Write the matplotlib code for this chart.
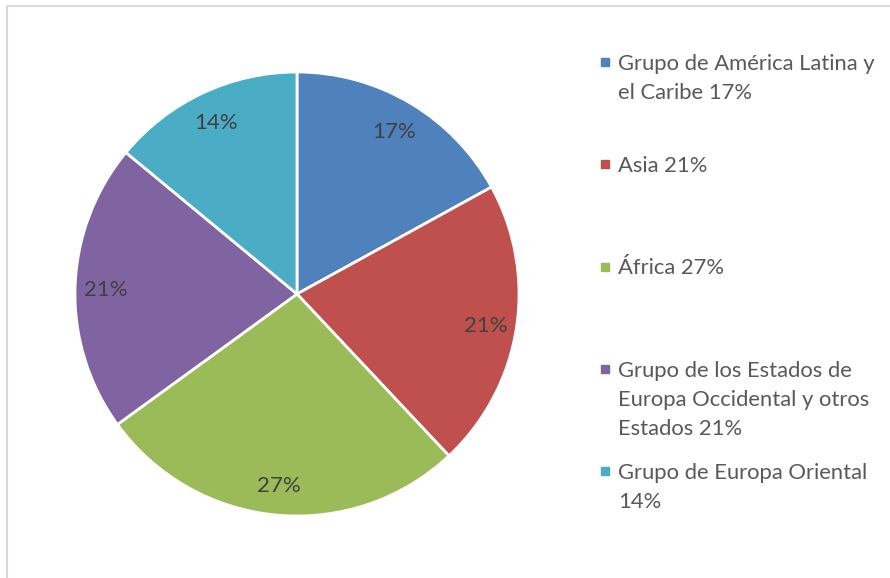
import matplotlib.pyplot as plt
from matplotlib.patches import Rectangle

regiones = [["Grupo de América Latina y", "el Caribe"],
            ["Asia"],
            ["África"],
            ["Grupo de los Estados de", "Europa Occidental y otros", "Estados"],
            ["Grupo de Europa Oriental", ""]]
porcentajes = [17, 21, 27, 21, 14]
colores = ["#4F81BD", "#C0504D", "#9BBB59", "#8064A2", "#4BACC6"]

W, H = 890, 578
plt.rcParams['font.family'] = ['Lato', 'DejaVu Sans']

fig = plt.figure(figsize=(W / 100, H / 100), dpi=100)

# marco gris del grafico
fig.patches.append(Rectangle((7 / W, -0.1), 1.2, (H - 6) / H + 0.1,
                             transform=fig.transFigure, fill=False,
                             edgecolor="#D9D9D9", linewidth=1.5))

# pie: centro (297, 294) px, radio 222 px
cx, cy, r = 297, H - 294, 222
m = 1.02
ax = fig.add_axes([(cx - r * m) / W, (cy - r * m) / H,
                   2 * r * m / W, 2 * r * m / H])
wedges, texts = ax.pie(porcentajes, colors=colores, startangle=90,
                       counterclock=False,
                       labels=[f"{p}%" for p in porcentajes],
                       labeldistance=0.86,
                       wedgeprops=dict(edgecolor="white", linewidth=2),
                       textprops=dict(color="#404040", fontsize=16))
for t in texts:
    t.set_ha("center")
    t.set_va("center_baseline")
ax.set_xlim(-m, m)
ax.set_ylim(-m, m)
ax.set_aspect("equal")
ax.axis("off")

# leyenda manual a la derecha (cuadro alineado con la primera linea)
y0, paso, interlinea = 62, 102.25, 29
for i, (lineas, p, c) in enumerate(zip(regiones, porcentajes, colores)):
    yc = y0 + i * paso
    fig.patches.append(Rectangle((601 / W, (H - yc - 4) / H), 8 / W, 8 / H,
                                 transform=fig.transFigure, color=c))
    lineas = list(lineas)
    lineas[-1] = (lineas[-1] + f" {p}%").strip()
    for k, txt in enumerate(lineas):
        yb = yc + 8 + k * interlinea
        fig.text(618 / W, (H - yb) / H, txt, color="#595959", fontsize=15.8,
                 ha="left", va="baseline", transform=fig.transFigure)

fig.savefig("out.png", dpi=100)
